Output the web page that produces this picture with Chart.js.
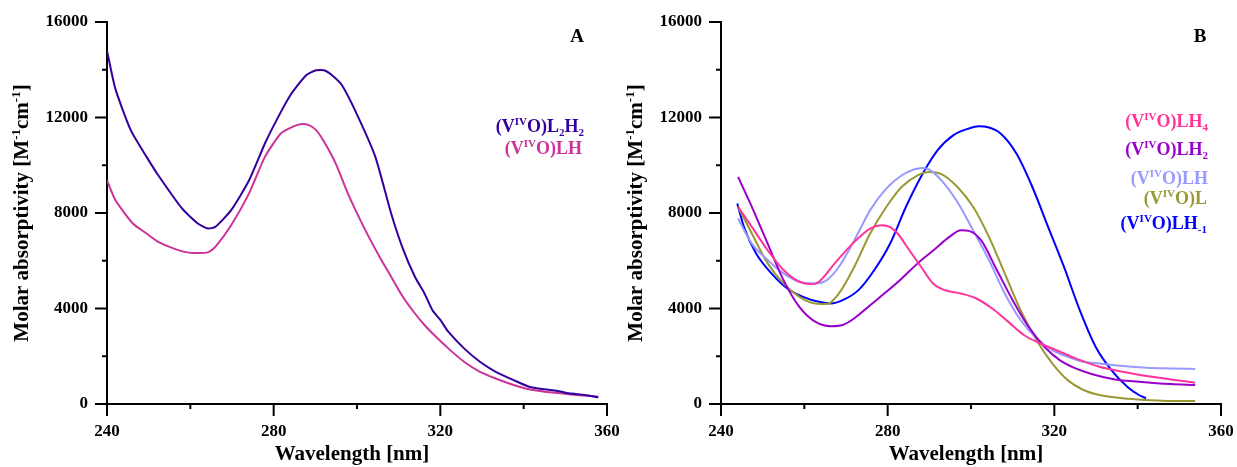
<!DOCTYPE html>
<html>
<head>
<meta charset="utf-8">
<script src="https://cdn.jsdelivr.net/npm/chart.js@4"></script>
<style>
  html, body { margin: 0; padding: 0; background: #fff; }
  body { position: relative; width: 1237px; height: 467px; overflow: hidden; }
  canvas { position: absolute; top: 0; }
  #panel-a { left: 0; }
  #panel-b { left: 617px; }
</style>
</head>
<body>
<canvas id="panel-a" width="623" height="467"></canvas>
<canvas id="panel-b" width="620" height="467"></canvas>
<script>
// ---- panel A: (VIVO)L2H2 and (VIVO)LH ----
const aL2H2Nm = [240, 242, 245.7, 249.5, 252.3, 258, 261.8, 264.2, 266, 269.8, 274.1, 277.9, 280.7, 284, 287.8, 290.2,
  292.1, 294, 296.4, 300.1, 304.4, 308.2, 311, 313.9, 316.2, 318.1, 320, 321.9, 325.7, 329.5, 333.3, 337.6, 341.3,
  345.1, 348, 350.8, 354.6, 357.9];
const aL2H2Eps = [14800, 13210, 11470, 10350, 9580, 8190, 7560, 7350, 7420, 8120, 9370, 10910, 11890, 12930, 13770, 13980,
  13980, 13770, 13350, 12090, 10350, 7980, 6510, 5330, 4630, 3930, 3520, 3030, 2330, 1770, 1350, 1000, 725,
  614, 558, 446, 377, 279];
const aLHNm = [240, 242, 246.2, 249.5, 252.3, 256.1, 260, 264.2, 266, 269.8, 274.1, 277.9, 281.7, 284.5, 286.4, 288.3,
  290.2, 292.1, 294.9, 297.8, 301.6, 305.4, 308.2, 311, 313.9, 316.2, 318.1, 321.9, 325.7, 329.5, 333.3, 337.6,
  341.3, 345.1, 348.9, 352.7, 357.9];
const aLHEps = [9370, 8540, 7560, 7140, 6790, 6510, 6330, 6350, 6580, 7490, 8820, 10350, 11330, 11610, 11720, 11690,
  11470, 10980, 10070, 8820, 7420, 6170, 5330, 4490, 3790, 3310, 2960, 2330, 1770, 1350, 1070, 795,
  614, 516, 446, 377, 307];

// ---- panel B: five species ----
const bLH4Nm = [244.1, 247.4, 251.2, 255, 258.8, 261.6, 263.5, 267.3, 272, 275.8, 278.6, 280.5, 282.4, 285.2, 288, 290.9,
  293.7, 297.5, 301.3, 305.1, 308.9, 312.7, 316.6, 320.4, 325.1, 330.8, 336.5, 342.2, 347.9, 353.8];
const bLH4Eps = [8260, 7420, 6440, 5610, 5120, 5020, 5120, 5890, 6790, 7350, 7490, 7420, 7140, 6440, 5750, 5050,
  4770, 4630, 4420, 4000, 3450, 2890, 2540, 2260, 1910, 1560, 1350, 1170, 1030, 893];

const bLH2Nm = [244.1, 247.4, 251.2, 255, 258.8, 262.6, 266.4, 269.2, 272, 275.8, 279.7, 283.4, 287.2, 291, 294.8, 297.6,
  299.5, 302.4, 306.2, 310, 313.8, 317.6, 321.3, 325.1, 328.9, 334.6, 340.3, 347.9, 353.8];
const bLH2Eps = [9510, 8260, 6720, 5190, 4070, 3450, 3260, 3310, 3590, 4140, 4700, 5260, 5890, 6440, 7000, 7280,
  7250, 6860, 5610, 4350, 3240, 2400, 1840, 1490, 1260, 1030, 935, 837, 795];

const bLHNm = [244.1, 247.4, 251.2, 255, 258.8, 262.6, 265.4, 268.3, 272, 275.8, 279.7, 283.4, 286.3, 288.2, 290, 292.9,
  296.7, 300.5, 304.3, 308.1, 311.9, 315.7, 319.5, 323.2, 327, 330.8, 336.5, 342.2, 347.9, 353.8];
const bLHEps = [7770, 6720, 6030, 5470, 5120, 5050, 5190, 5750, 6860, 8120, 9030, 9580, 9820, 9890, 9820, 9370,
  8470, 7280, 6030, 4630, 3520, 2750, 2260, 1980, 1770, 1700, 1590, 1520, 1490, 1465];

const bLNm = [244.1, 247.4, 251.2, 255, 258.8, 262.6, 265.4, 268.3, 272, 275.8, 279.7, 283.4, 287.2, 290, 292.9, 296.7,
  300.5, 304.3, 308.1, 311.9, 315.7, 319.5, 323.2, 327, 330.8, 336.5, 342.2, 347.9, 353.8];
const bLEps = [8260, 7140, 5890, 5050, 4490, 4210, 4190, 4630, 5750, 7140, 8260, 9100, 9580, 9720, 9630, 9100,
  8260, 7000, 5470, 3930, 2680, 1700, 1000, 586, 377, 237, 167, 126, 126];

const bLHm1Nm = [243.9, 245.5, 248.4, 252.1, 255.9, 259.7, 263.5, 266.4, 269.2, 273, 276.8, 280.6, 284.4, 288.2, 292,
  295.8, 299.5, 301.9, 304.3, 307.1, 310.9, 314.7, 318.5, 322.3, 326.1, 329.9, 333.7, 337.5, 340.3, 342];
const bLHm1Eps = [8400, 7420, 6310, 5470, 4840, 4490, 4280, 4210, 4350, 4770, 5610, 6720, 8260, 9580, 10630,
  11260, 11540, 11630, 11580, 11330, 10490, 9100, 7420, 5750, 3930, 2400, 1420, 725, 377, 237];

// axis ticks
const xMajorTicks = [240, 280, 320, 360];
const xMinorTicks = [260, 300, 340];
const yMajorTicks = [0, 4000, 8000, 12000, 16000];
const yMinorTicks = [2000, 6000, 10000, 14000];

// label pieces: [text, '' | 'sup' | 'sub']
const labelL2H2 = [['(V', ''], ['IV', 'sup'], ['O)L', ''], ['2', 'sub'], ['H', ''], ['2', 'sub']];
const labelLH = [['(V', ''], ['IV', 'sup'], ['O)LH', '']];
const labelLH4 = [['(V', ''], ['IV', 'sup'], ['O)LH', ''], ['4', 'sub']];
const labelLH2 = [['(V', ''], ['IV', 'sup'], ['O)LH', ''], ['2', 'sub']];
const labelL = [['(V', ''], ['IV', 'sup'], ['O)L', '']];
const labelLHm1 = [['(V', ''], ['IV', 'sup'], ['O)LH', ''], ['-1', 'sub']];
const yTitle = [['Molar absorptivity [M', ''], ['-1', 'sup'], ['cm', ''], ['-1', 'sup'], [']', '']];

const FONT = '"Liberation Serif", "Times New Roman", serif';

function pts(xs, ys) {
  return xs.map((x, i) => ({ x: x, y: ys[i] }));
}

// draws text made of normal / superscript / subscript runs
function drawRich(ctx, parts, x, y, size, color, align) {
  const small = Math.round(size * 0.6);
  const fontOf = k => 'bold ' + (k ? small : size) + 'px ' + FONT;
  let total = 0;
  parts.forEach(([t, k]) => { ctx.font = fontOf(k); total += ctx.measureText(t).width; });
  let cx = align === 'right' ? x - total : align === 'center' ? x - total / 2 : x;
  ctx.fillStyle = color;
  ctx.textBaseline = 'alphabetic';
  ctx.textAlign = 'left';
  parts.forEach(([t, k]) => {
    ctx.font = fontOf(k);
    const dy = k === 'sup' ? -size * 0.38 : k === 'sub' ? size * 0.22 : 0;
    ctx.fillText(t, cx, y + dy);
    cx += ctx.measureText(t).width;
  });
}

// major / minor tick marks, titles and in-plot labels
const decorPlugin = {
  id: 'decor',
  afterDraw(chart, args, opts) {
    const ctx = chart.ctx;
    const xs = chart.scales.x, ys = chart.scales.y;
    const area = chart.chartArea;
    ctx.save();
    ctx.strokeStyle = '#000';
    ctx.lineWidth = 2;
    ctx.beginPath();
    xMajorTicks.forEach(v => { const p = xs.getPixelForValue(v); ctx.moveTo(p, area.bottom); ctx.lineTo(p, area.bottom + 12); });
    xMinorTicks.forEach(v => { const p = xs.getPixelForValue(v); ctx.moveTo(p, area.bottom); ctx.lineTo(p, area.bottom + 5); });
    yMajorTicks.forEach(v => { const p = ys.getPixelForValue(v); ctx.moveTo(area.left, p); ctx.lineTo(area.left - 12, p); });
    yMinorTicks.forEach(v => { const p = ys.getPixelForValue(v); ctx.moveTo(area.left, p); ctx.lineTo(area.left - 5, p); });
    ctx.stroke();

    // x title
    drawRich(ctx, [['Wavelength [nm]', '']], (area.left + area.right) / 2 - 5, 460, 21, '#000', 'center');
    // y title, rotated
    ctx.save();
    ctx.translate(opts.yTitleX, (area.top + area.bottom) / 2);
    ctx.rotate(-Math.PI / 2);
    drawRich(ctx, yTitle, 0, 0, 21, '#000', 'center');
    ctx.restore();

    // panel letter
    ctx.font = 'bold 19px ' + FONT;
    ctx.fillStyle = '#000';
    ctx.textAlign = 'center';
    ctx.textBaseline = 'alphabetic';
    ctx.fillText(opts.letter, opts.letterX, 42);

    // series labels
    opts.labels.forEach(l => drawRich(ctx, l.parts, l.x, l.y, 18, l.color, 'right'));
    ctx.restore();
  }
};

function makeChart(id, datasets, yWidth, decor) {
  return new Chart(document.getElementById(id), {
    type: 'line',
    data: { datasets: datasets },
    plugins: [decorPlugin],
    options: {
      responsive: false,
      animation: false,
      layout: { padding: { top: 22, right: 16, bottom: 0, left: 0 } },
      plugins: { legend: { display: false }, tooltip: { enabled: false }, decor: decor },
      elements: { point: { radius: 0 }, line: { borderWidth: 2, fill: false } },
      scales: {
        x: {
          type: 'linear', min: 240, max: 360,
          grid: { display: false, drawTicks: false },
          border: { display: true, color: '#000', width: 2 },
          ticks: { stepSize: 40, padding: 17, color: '#000', callback: v => String(v),
            font: { family: FONT, size: 17, weight: 'bold' } },
          afterFit: s => { s.height = 63; s.paddingLeft = 0; s.paddingRight = 0; }
        },
        y: {
          min: 0, max: 16000,
          grid: { display: false, drawTicks: false },
          border: { display: true, color: '#000', width: 2 },
          ticks: { stepSize: 4000, padding: 19, color: '#000', callback: v => String(v),
            font: { family: FONT, size: 17, weight: 'bold' } },
          afterFit: s => { s.width = yWidth; s.paddingTop = 0; s.paddingBottom = 0; }
        }
      }
    }
  });
}

makeChart('panel-a', [
  { data: pts(aL2H2Nm, aL2H2Eps), borderColor: '#3300a0', tension: 0.2 },
  { data: pts(aLHNm, aLHEps), borderColor: '#cc3399', tension: 0.2 }
], 107, {
  letter: 'A', letterX: 577, yTitleX: 28,
  labels: [
    { parts: labelL2H2, x: 584, y: 132, color: '#3300a0' },
    { parts: labelLH, x: 582, y: 154, color: '#cc3399' }
  ]
});

makeChart('panel-b', [
  { data: pts(bLH4Nm, bLH4Eps), borderColor: '#ff3399', cubicInterpolationMode: 'monotone' },
  { data: pts(bLH2Nm, bLH2Eps), borderColor: '#9900cc', cubicInterpolationMode: 'monotone' },
  { data: pts(bLHNm, bLHEps), borderColor: '#9999ff', cubicInterpolationMode: 'monotone' },
  { data: pts(bLNm, bLEps), borderColor: '#999933', cubicInterpolationMode: 'monotone' },
  { data: pts(bLHm1Nm, bLHm1Eps), borderColor: '#0000ff', cubicInterpolationMode: 'monotone' }
], 104, {
  letter: 'B', letterX: 583, yTitleX: 25,
  labels: [
    { parts: labelLH4, x: 591, y: 127, color: '#ff3399' },
    { parts: labelLH2, x: 591, y: 155, color: '#9900cc' },
    { parts: labelLH, x: 591, y: 184, color: '#9999ff' },
    { parts: labelL, x: 590, y: 204, color: '#999933' },
    { parts: labelLHm1, x: 590, y: 229, color: '#0000ff' }
  ]
});
</script>
</body>
</html>
